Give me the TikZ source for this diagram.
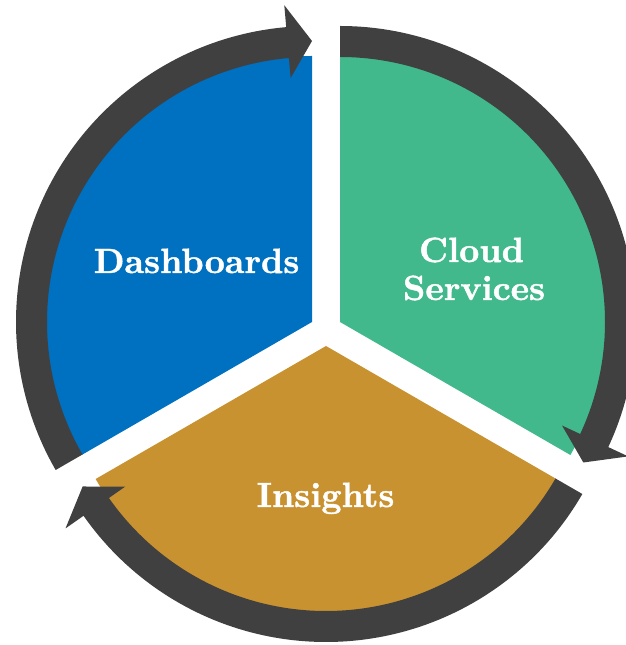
\documentclass[tikz,border=0pt]{standalone}
\usepackage{fontspec}
\newfontfamily\lblfont{lmroman10-bold.otf}[FakeBold=1.2]
\definecolor{cblue}{HTML}{0070C0}
\definecolor{cgreen}{HTML}{41B98C}
\definecolor{cgold}{HTML}{C99230}
\definecolor{cdark}{HTML}{404040}
\tikzset{
  lbl/.style={text=white, font=\fontsize{35}{38}\selectfont\lblfont, anchor=base, inner sep=0pt},
  ring/.style={fill=cdark}
}
% #1 center, #2 tail angle, #3 tip angle (clockwise, #3 < #2)
\newcommand{\cyclearrow}[3]{%
  \begin{scope}[shift={#1}]
    \fill[ring] (#2:265) arc[start angle=#2, end angle=#3+5, radius=265]
      -- (#3+5:245) -- (#3:281) -- (#3+5:318) -- (#3+5:296)
      arc[start angle=#3+5, end angle=#2, radius=296] -- cycle;
  \end{scope}}
\begin{document}
\begin{tikzpicture}[x=1pt,y=1pt]
\useasboundingbox (0,0) rectangle (626,645);
% sectors (exploded pie)
\fill[cblue] (312,323) -- ++(90:266) arc[start angle=90, end angle=210, radius=266] -- cycle;
\fill[cgreen] (340,323) -- ++(90:266) arc[start angle=90, end angle=-30, radius=266] -- cycle;
\fill[cgold] (326,299) -- ++(-30:266) arc[start angle=-30, end angle=-150, radius=266] -- cycle;
% arrows
\cyclearrow{(312,323)}{210}{90}
\cyclearrow{(340,323)}{90}{-30}
\cyclearrow{(326,299)}{330}{210}
% labels
\node[lbl] (dash) at (196.5,372) {Dashboards};
\node[lbl] (cloud) at (471.5,383) {Cloud};
\node[lbl] (serv) at (474,345) {Services};
\node[lbl] (ins) at (325.5,138) {Insights};
\end{tikzpicture}
\end{document}
